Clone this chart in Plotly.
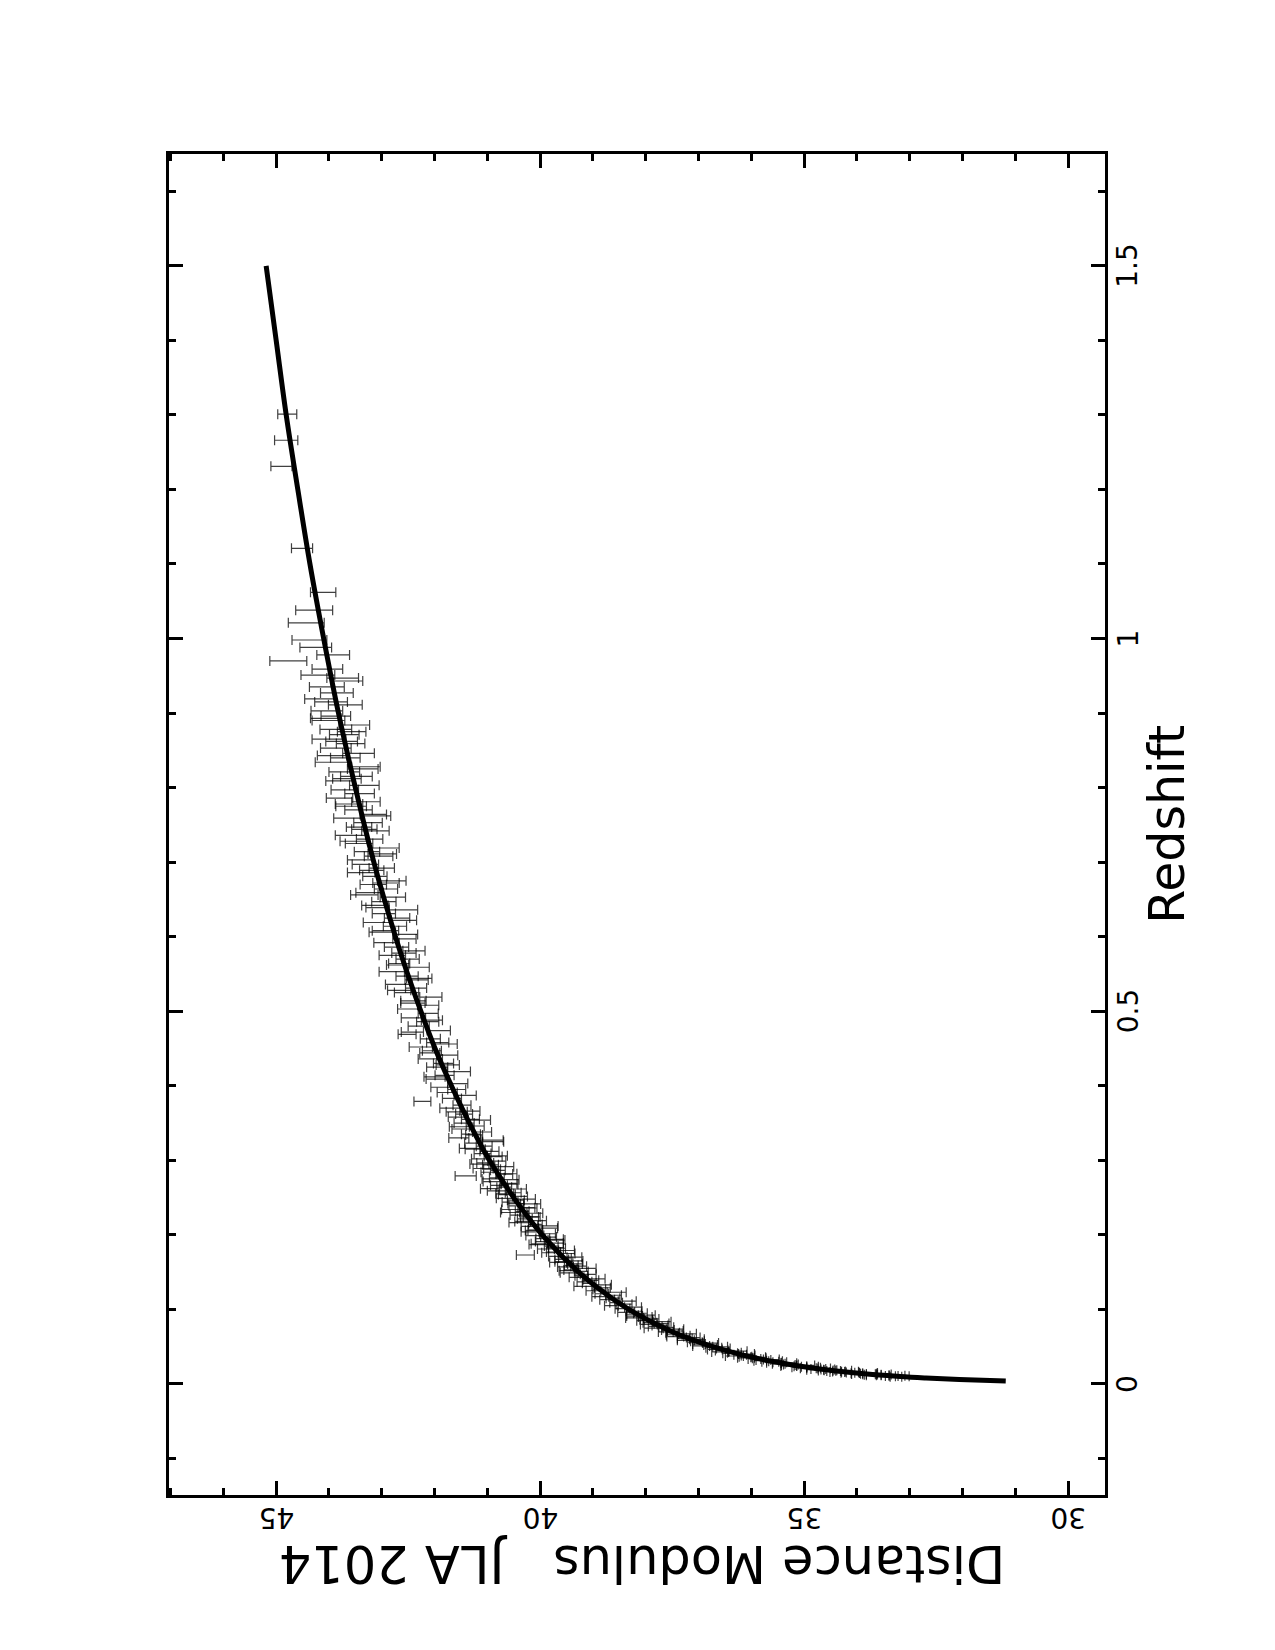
import plotly.graph_objects as go

# ---- model curve (distance modulus vs redshift) ----
model_z = [0.004, 0.006, 0.008, 0.01, 0.015, 0.02, 0.025, 0.03, 0.04, 0.05, 0.06, 0.07, 0.08, 0.09,
           0.1, 0.12, 0.15, 0.2, 0.25, 0.3, 0.35, 0.4, 0.45, 0.5, 0.55, 0.6, 0.7, 0.8, 0.9, 1.0,
           1.1, 1.2, 1.3, 1.4, 1.5]
model_mu = [31.18, 32.06, 32.69, 33.18, 34.06, 34.70, 35.19, 35.59, 36.23, 36.73, 37.15, 37.50, 37.80, 38.07,
            38.32, 38.74, 39.27, 39.96, 40.50, 40.96, 41.34, 41.68, 41.99, 42.26, 42.51, 42.74, 43.15, 43.50, 43.82, 44.10,
            44.36, 44.59, 44.81, 45.00, 45.19]

# ---- JLA 2014 supernovae (redshift, distance modulus, error) ----
sn_z = [
    # z < 0.03
    0.0098, 0.0102, 0.0105, 0.0110, 0.0115, 0.0118, 0.0122, 0.0125, 0.0130, 0.0134,
    0.0138, 0.0142, 0.0146, 0.0150, 0.0155, 0.0160, 0.0164, 0.0168, 0.0172, 0.0176,
    0.0180, 0.0185, 0.0190, 0.0195, 0.0200, 0.0206, 0.0212, 0.0218, 0.0224, 0.0230,
    0.0236, 0.0242, 0.0248, 0.0255, 0.0262, 0.0270, 0.0278, 0.0285, 0.0292, 0.0299,
    # 0.03 - 0.06
    0.0305, 0.0312, 0.0320, 0.0328, 0.0335, 0.0343, 0.0350, 0.0358, 0.0366, 0.0375,
    0.0383, 0.0392, 0.0400, 0.0410, 0.0420, 0.0430, 0.0440, 0.0450, 0.0462, 0.0474,
    0.0486, 0.0498, 0.0510, 0.0522, 0.0535, 0.0548, 0.0560, 0.0572, 0.0585, 0.0598,
    # 0.06 - 0.1
    0.0610, 0.0622, 0.0635, 0.0648, 0.0660, 0.0672, 0.0685, 0.0698, 0.0710, 0.0722,
    0.0735, 0.0748, 0.0760, 0.0772, 0.0785, 0.0798, 0.0810, 0.0822, 0.0835, 0.0848,
    0.0860, 0.0872, 0.0885, 0.0898, 0.0910, 0.0922, 0.0935, 0.0948, 0.0960, 0.0975,
    # 0.1 - 0.2
    0.101, 0.103, 0.105, 0.107, 0.109, 0.111, 0.113, 0.115, 0.117, 0.119,
    0.121, 0.123, 0.125, 0.127, 0.129, 0.131, 0.133, 0.135, 0.137, 0.139,
    0.141, 0.143, 0.145, 0.147, 0.149, 0.151, 0.153, 0.155, 0.157, 0.159,
    0.161, 0.163, 0.165, 0.167, 0.169, 0.171, 0.173, 0.175, 0.177, 0.179,
    0.181, 0.183, 0.185, 0.187, 0.189, 0.191, 0.193, 0.195, 0.197, 0.199,
    # 0.2 - 0.3
    0.2015, 0.204, 0.2065, 0.209, 0.2115, 0.214, 0.2165, 0.219, 0.2215, 0.224,
    0.2265, 0.229, 0.2315, 0.234, 0.2365, 0.239, 0.2415, 0.244, 0.2465, 0.249,
    0.2515, 0.254, 0.2565, 0.259, 0.2615, 0.264, 0.2665, 0.269, 0.2715, 0.274,
    0.2765, 0.279, 0.2815, 0.284, 0.2865, 0.289, 0.2915, 0.294, 0.2965, 0.299,
    # 0.3 - 0.4
    0.302, 0.306, 0.309, 0.312, 0.316, 0.319, 0.323, 0.327, 0.330, 0.334,
    0.338, 0.342, 0.346, 0.350, 0.354, 0.358, 0.362, 0.366, 0.370, 0.374,
    0.379, 0.383, 0.387, 0.391, 0.395, 0.398,
    # 0.4 - 0.5
    0.403, 0.409, 0.414, 0.419, 0.425, 0.430, 0.436, 0.441, 0.447, 0.452,
    0.458, 0.463, 0.469, 0.474, 0.480, 0.486, 0.491, 0.497,
    # 0.5 - 0.6
    0.503, 0.508, 0.514, 0.519, 0.525, 0.531, 0.536, 0.542, 0.547, 0.553,
    0.559, 0.564, 0.570, 0.575, 0.581, 0.586, 0.592, 0.597,
    # 0.6 - 0.7
    0.603, 0.608, 0.614, 0.619, 0.625, 0.631, 0.636, 0.642, 0.647, 0.653,
    0.659, 0.664, 0.670, 0.675, 0.681, 0.686, 0.692, 0.697,
    # 0.7 - 0.8
    0.703, 0.708, 0.714, 0.719, 0.725, 0.731, 0.736, 0.742, 0.747, 0.753,
    0.759, 0.764, 0.770, 0.775, 0.781, 0.786, 0.792, 0.797,
    # 0.8 - 0.9
    0.803, 0.809, 0.815, 0.821, 0.828, 0.834, 0.840, 0.846, 0.853, 0.859,
    0.865, 0.871, 0.878, 0.884, 0.890, 0.896,
    # 0.9 - 1.05
    0.903, 0.911, 0.919, 0.927, 0.935, 0.943, 0.951, 0.959, 0.970, 0.978,
    0.988, 0.998, 1.021, 1.038,
    # > 1.05
    1.062, 1.121, 1.231, 1.266, 1.301,
    # extra, 0.15 - 0.37
    0.152, 0.158, 0.164, 0.170, 0.176, 0.182, 0.188, 0.194, 0.206, 0.212,
    0.218, 0.224, 0.230, 0.236, 0.242, 0.248, 0.255, 0.262, 0.268, 0.275,
    0.282, 0.288, 0.295, 0.305, 0.315, 0.325, 0.335, 0.345, 0.355, 0.365,
    # extra, 0.4 - 0.95
    0.412, 0.428, 0.444, 0.456, 0.472, 0.488, 0.511, 0.528, 0.544, 0.562,
    0.578, 0.606, 0.622, 0.639, 0.656, 0.672, 0.689, 0.711, 0.728, 0.744,
    0.762, 0.778, 0.812, 0.825, 0.843, 0.862, 0.875, 0.893, 0.915, 0.947,
]

sn_mu = [
    33.26, 33.14, 33.34, 33.24, 33.68, 33.51, 33.70, 33.48, 33.77, 33.96,
    33.78, 34.00, 33.78, 34.17, 34.08, 34.37, 34.13, 34.34, 34.44, 34.25,
    34.59, 34.50, 34.79, 34.55, 34.73, 34.62, 34.92, 34.82, 35.09, 34.89,
    35.07, 35.29, 34.97, 35.30, 35.25, 35.48, 35.29, 35.57, 35.46, 35.64,
    35.54, 35.83, 35.77, 35.62, 35.94, 35.85, 36.10, 35.87, 36.11, 36.32,
    36.06, 36.21, 36.09, 36.40, 36.32, 36.59, 36.25, 36.56, 36.69, 36.53,
    36.71, 36.59, 36.95, 36.77, 36.99, 36.77, 37.07, 37.02, 37.24, 37.03,
    37.26, 37.10, 37.44, 37.28, 37.46, 37.21, 37.49, 37.62, 37.44, 37.58,
    37.44, 37.85, 37.61, 37.82, 37.73, 37.94, 37.70, 37.92, 37.69, 38.02,
    37.99, 37.89, 38.21, 38.01, 38.21, 37.98, 38.22, 38.10, 38.37, 38.22,
    38.44, 38.24, 38.65, 38.41, 38.56, 38.35, 38.73, 38.62, 38.86, 38.61,
    38.83, 38.55, 38.99, 38.88, 38.82, 39.19, 38.81, 39.07, 39.16, 39.04,
    38.93, 39.31, 39.22, 39.09, 39.45, 39.22, 39.41, 39.12, 39.52, 39.41,
    39.34, 39.66, 39.34, 39.59, 39.53, 39.70, 40.28, 39.50, 39.75, 39.50,
    39.89, 39.70, 39.79, 40.03, 39.71, 39.95, 39.69, 39.95, 39.84, 40.10,
    39.86, 40.19, 40.09, 39.85, 40.20, 40.09, 40.40, 40.03, 40.29, 40.16,
    40.40, 40.10, 40.34, 40.55, 40.26, 40.45, 40.18, 40.57, 40.46, 40.66,
    40.38, 40.63, 40.51, 40.82, 40.43, 40.68, 40.78, 40.59, 40.90, 40.57,
    40.82, 41.41, 40.68, 40.97, 40.80, 41.08, 40.68, 40.94, 41.04, 40.82,
    41.13, 40.81, 41.09, 40.96, 41.33, 41.06, 41.26, 40.91, 41.54, 41.25,
    41.10, 41.47, 41.23, 41.44, 41.15, 41.56, 41.44, 41.33, 41.70, 41.48,
    42.23, 41.67, 41.42, 41.76, 41.58, 41.87,
    41.56, 41.95, 41.81, 41.54, 41.95, 41.83, 42.08, 41.76, 42.05, 42.26,
    41.94, 42.08, 42.52, 41.92, 42.30, 42.13, 42.40, 42.12,
    42.48, 42.12, 42.40, 42.07, 42.53, 42.35, 42.68, 42.34, 42.52, 42.81,
    42.33, 42.67, 42.51, 42.80, 42.39, 42.72, 42.91, 42.57,
    42.55, 42.93, 42.75, 43.09, 42.71, 42.96, 42.59, 43.13, 42.96, 42.79,
    43.23, 42.92, 43.16, 42.81, 43.13, 43.39, 43.00, 43.31,
    43.40, 43.06, 43.28, 42.95, 43.43, 43.23, 43.59, 43.12, 43.43, 43.26,
    43.63, 43.16, 43.44, 43.58, 43.30, 43.80, 43.42, 43.70,
    43.33, 43.79, 43.48, 43.71, 43.30, 43.95, 43.69, 43.44, 43.87, 43.59,
    44.00, 43.71, 43.87, 43.52, 44.01, 43.87,
    44.04, 43.69, 44.17, 43.85, 44.04, 43.66, 44.21, 44.03, 44.77, 43.92,
    44.25, 44.37, 44.43, 44.28,
    44.11, 44.51, 44.90, 44.81, 44.79,
    39.48, 39.27, 39.55, 39.35, 39.79, 39.68, 40.02, 39.73, 40.12, 39.85,
    40.33, 40.20, 40.57, 40.22, 40.46, 40.28, 40.67, 40.95, 40.58, 40.93,
    40.63, 40.91, 41.15, 40.89, 41.23, 40.89, 41.31, 41.53, 41.32, 41.58,
    42.00, 41.75, 42.09, 41.80, 42.42, 42.05, 42.41, 42.67, 42.29, 42.70,
    42.58, 42.99, 42.58, 43.08, 43.33, 42.92, 43.19, 42.99, 43.53, 43.33,
    43.11, 43.62, 43.66, 43.36, 43.94, 43.76, 43.57, 44.06, 43.96, 43.74,
]

sn_err = [
    0.11, 0.13, 0.12, 0.15, 0.14, 0.12, 0.16, 0.13, 0.12, 0.14,
    0.15, 0.11, 0.17, 0.13, 0.12, 0.14, 0.16, 0.12, 0.13, 0.15,
    0.14, 0.12, 0.16, 0.13, 0.14, 0.12, 0.15, 0.13, 0.14, 0.16,
    0.12, 0.15, 0.17, 0.13, 0.14, 0.12, 0.15, 0.14, 0.13, 0.16,
    0.13, 0.12, 0.14, 0.15, 0.12, 0.13, 0.16, 0.14, 0.12, 0.17,
    0.13, 0.12, 0.15, 0.14, 0.13, 0.16, 0.17, 0.12, 0.14, 0.13,
    0.15, 0.14, 0.16, 0.13, 0.12, 0.15, 0.14, 0.13, 0.16, 0.14,
    0.14, 0.13, 0.16, 0.12, 0.15, 0.17, 0.13, 0.14, 0.15, 0.12,
    0.16, 0.18, 0.14, 0.13, 0.15, 0.16, 0.14, 0.13, 0.17, 0.15,
    0.12, 0.14, 0.17, 0.13, 0.15, 0.16, 0.14, 0.13, 0.16, 0.15,
    0.14, 0.16, 0.13, 0.15, 0.12, 0.17, 0.14, 0.13, 0.16, 0.15,
    0.13, 0.18, 0.14, 0.12, 0.15, 0.17, 0.16, 0.13, 0.14, 0.15,
    0.16, 0.14, 0.12, 0.15, 0.17, 0.13, 0.14, 0.18, 0.15, 0.13,
    0.14, 0.16, 0.15, 0.13, 0.12, 0.14, 0.17, 0.16, 0.13, 0.15,
    0.16, 0.14, 0.13, 0.18, 0.15, 0.14, 0.16, 0.13, 0.15, 0.17,
    0.15, 0.17, 0.14, 0.18, 0.16, 0.13, 0.19, 0.15, 0.14, 0.16,
    0.17, 0.15, 0.13, 0.18, 0.16, 0.14, 0.19, 0.15, 0.16, 0.17,
    0.14, 0.16, 0.15, 0.18, 0.17, 0.14, 0.16, 0.15, 0.18, 0.17,
    0.14, 0.20, 0.16, 0.15, 0.14, 0.19, 0.18, 0.15, 0.16, 0.17,
    0.17, 0.19, 0.16, 0.18, 0.20, 0.15, 0.17, 0.21, 0.19, 0.16,
    0.18, 0.20, 0.17, 0.19, 0.21, 0.18, 0.16, 0.19, 0.20, 0.17,
    0.16, 0.18, 0.21, 0.19, 0.17, 0.20,
    0.19, 0.21, 0.18, 0.22, 0.20, 0.19, 0.23, 0.20, 0.18, 0.22,
    0.21, 0.19, 0.17, 0.22, 0.20, 0.21, 0.23, 0.19,
    0.22, 0.20, 0.24, 0.21, 0.23, 0.20, 0.25, 0.22, 0.21, 0.24,
    0.23, 0.20, 0.22, 0.25, 0.21, 0.23, 0.24, 0.22,
    0.23, 0.25, 0.22, 0.26, 0.24, 0.22, 0.27, 0.25, 0.23, 0.24,
    0.26, 0.22, 0.25, 0.27, 0.23, 0.26, 0.24, 0.25,
    0.25, 0.27, 0.24, 0.28, 0.26, 0.25, 0.29, 0.26, 0.24, 0.27,
    0.28, 0.25, 0.26, 0.29, 0.27, 0.25, 0.28, 0.26,
    0.28, 0.27, 0.30, 0.29, 0.27, 0.31, 0.28, 0.30, 0.29, 0.27,
    0.32, 0.28, 0.30, 0.29, 0.31, 0.28,
    0.30, 0.32, 0.29, 0.31, 0.33, 0.30, 0.32, 0.29, 0.35, 0.31,
    0.30, 0.33, 0.34, 0.35,
    0.24, 0.20, 0.20, 0.22, 0.18,
    0.16, 0.15, 0.17, 0.14, 0.18, 0.16, 0.15, 0.17, 0.16, 0.19,
    0.15, 0.17, 0.18, 0.16, 0.15, 0.19, 0.17, 0.18, 0.16, 0.17,
    0.19, 0.16, 0.18, 0.17, 0.19, 0.20, 0.18, 0.19, 0.17, 0.20,
    0.20, 0.22, 0.19, 0.23, 0.21, 0.20, 0.23, 0.22, 0.24, 0.21,
    0.23, 0.25, 0.24, 0.22, 0.26, 0.25, 0.23, 0.27, 0.26, 0.24,
    0.28, 0.26, 0.27, 0.29, 0.28, 0.30, 0.27, 0.29, 0.31, 0.30,
]

mu_ticks = [30, 35, 40, 45]
mu_tick_text = ["30", "35", "40", "45"]
z_ticks = [0, 0.5, 1, 1.5]
z_tick_text = ["0", "0.5", "1", "1.5"]

FONT = "DejaVu Sans"
TICK_SIZE = 28

fig = go.Figure()

fig.add_trace(go.Scatter(
    x=sn_mu, y=sn_z, mode="markers",
    marker=dict(size=2, color="rgba(0,0,0,0)"),
    error_x=dict(type="data", array=sn_err, visible=True,
                 color="rgba(0,0,0,0.75)", thickness=1.2, width=5),
    showlegend=False, hoverinfo="skip",
))

fig.add_trace(go.Scatter(
    x=model_mu, y=model_z, mode="lines",
    line=dict(color="black", width=5, shape="spline"),
    showlegend=False, hoverinfo="skip",
))

axis_common = dict(
    showline=True, linecolor="black", linewidth=3, mirror="allticks",
    ticks="inside", ticklen=14, tickwidth=3, tickcolor="black",
    showgrid=False, zeroline=False, showticklabels=False,
)

annotations = []
# upside-down tick labels under the distance-modulus axis
for v, t in zip(mu_ticks, mu_tick_text):
    annotations.append(dict(
        text=t, xref="x", yref="paper", x=v, y=-0.0172,
        xanchor="center", yanchor="middle", textangle=180, showarrow=False,
        font=dict(family=FONT, size=TICK_SIZE, color="black")))
# rotated tick labels to the right of the redshift axis
for v, t in zip(z_ticks, z_tick_text):
    annotations.append(dict(
        text=t, xref="paper", yref="y", x=1.0246, y=v,
        xanchor="center", yanchor="middle", textangle=-90, showarrow=False,
        font=dict(family=FONT, size=TICK_SIZE, color="black")))

annotations += [
    dict(text="Distance Modulus\u00a0\u00a0\u00a0JLA 2014", xref="paper", yref="paper",
         x=0.506, y=-0.0515, xanchor="center", yanchor="middle", textangle=180,
         showarrow=False, font=dict(family=FONT, size=51, color="black")),
    dict(text="Redshift", xref="paper", yref="paper",
         x=1.067, y=0.5004, xanchor="center", yanchor="middle", textangle=-90,
         showarrow=False, font=dict(family=FONT, size=49, color="black")),
]

fig.update_layout(
    width=1275, height=1650,
    margin=dict(l=169, r=170, t=154, b=155),
    paper_bgcolor="white", plot_bgcolor="white",
    xaxis=dict(
        range=[47.03, 29.30], tick0=30, dtick=5,
        minor=dict(ticks="inside", ticklen=7, tickwidth=3, tickcolor="black", dtick=1, tick0=30),
        **axis_common,
    ),
    yaxis=dict(
        range=[-0.149, 1.65], side="right", tick0=0, dtick=0.5,
        minor=dict(ticks="inside", ticklen=7, tickwidth=3, tickcolor="black", dtick=0.1, tick0=0),
        **axis_common,
    ),
    annotations=annotations,
)

fig.write_html("out.html")
